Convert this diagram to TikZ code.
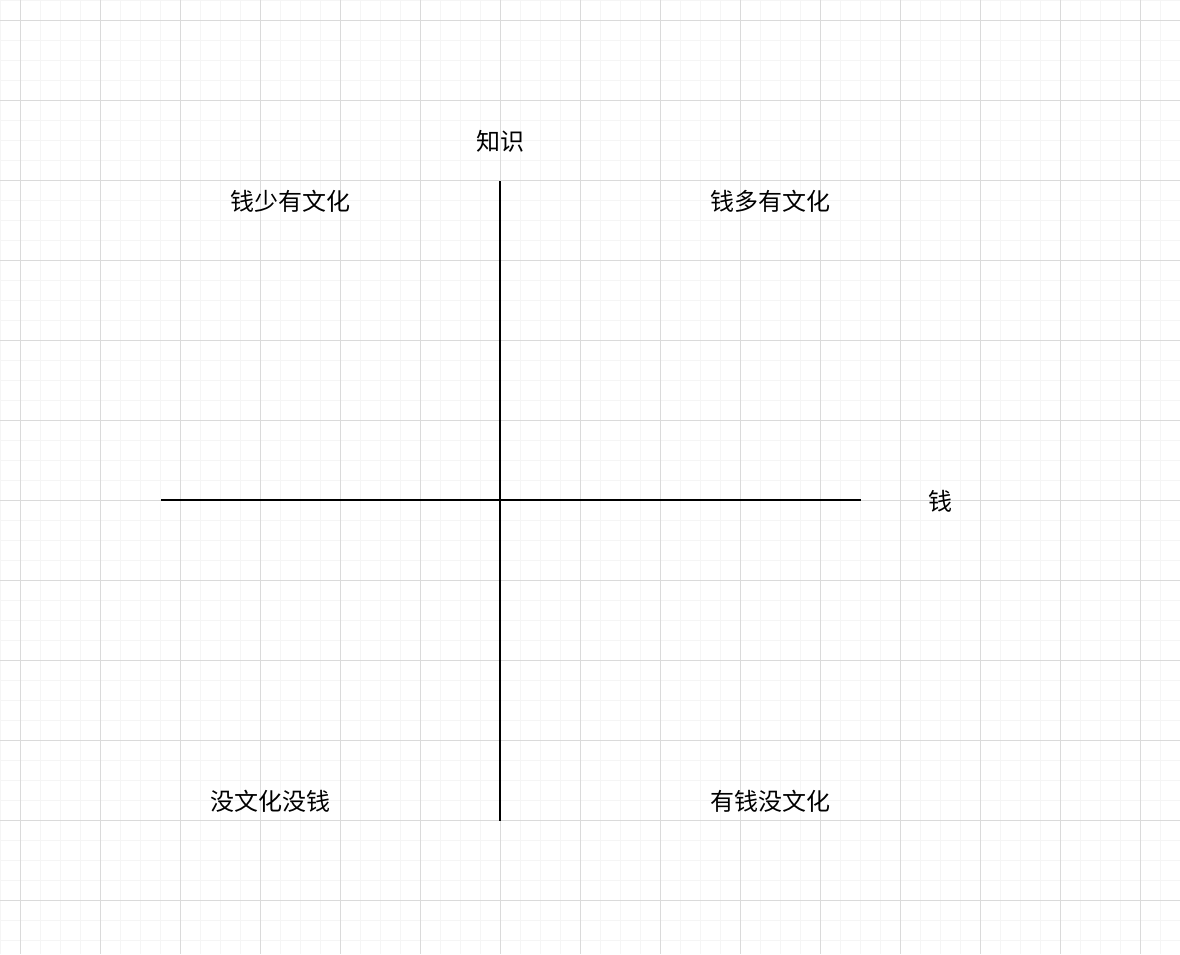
\documentclass[tikz,border=0pt]{standalone}
\usepackage{fontspec}
\newfontfamily\cjk{Noto Sans CJK SC}
\definecolor{minorgrid}{HTML}{F5F5F5}
\definecolor{majorgrid}{HTML}{DADADA}
\tikzset{
  minorline/.style={draw=minorgrid, line width=1pt},
  majorline/.style={draw=majorgrid, line width=1pt},
  axis/.style={draw=black, line width=2pt},
  lbl/.style={font=\cjk\fontsize{24pt}{27pt}\selectfont, inner sep=0pt, text=black}
}
\begin{document}
\begin{tikzpicture}[x=1pt,y=-1pt]
\fill[white] (0,0) rectangle (1180,954);
\useasboundingbox (0,0) rectangle (1180,954);
\foreach \i in {0,20,...,1180} {\draw[minorline] (\i,0) -- (\i,954);}
\foreach \i in {0,20,...,940} {\draw[minorline] (0,\i) -- (1180,\i);}
\foreach \i in {20,100,...,1180} {\draw[majorline] (\i,0) -- (\i,954);}
\foreach \i in {20,100,...,940} {\draw[majorline] (0,\i) -- (1180,\i);}
\coordinate (L) at (161,500);
\coordinate (R) at (861,500);
\coordinate (T) at (500,181);
\coordinate (B) at (500,821);
\draw[axis] (L) -- (R);
\draw[axis] (T) -- (B);
\node[lbl] (zs) at (500,141) {知识};
\node[lbl] (q) at (940,501) {钱};
\node[lbl] (tl) at (290,201) {钱少有文化};
\node[lbl] (tr) at (770,201) {钱多有文化};
\node[lbl] (bl) at (270,801) {没文化没钱};
\node[lbl] (br) at (770,801) {有钱没文化};
\end{tikzpicture}
\end{document}
